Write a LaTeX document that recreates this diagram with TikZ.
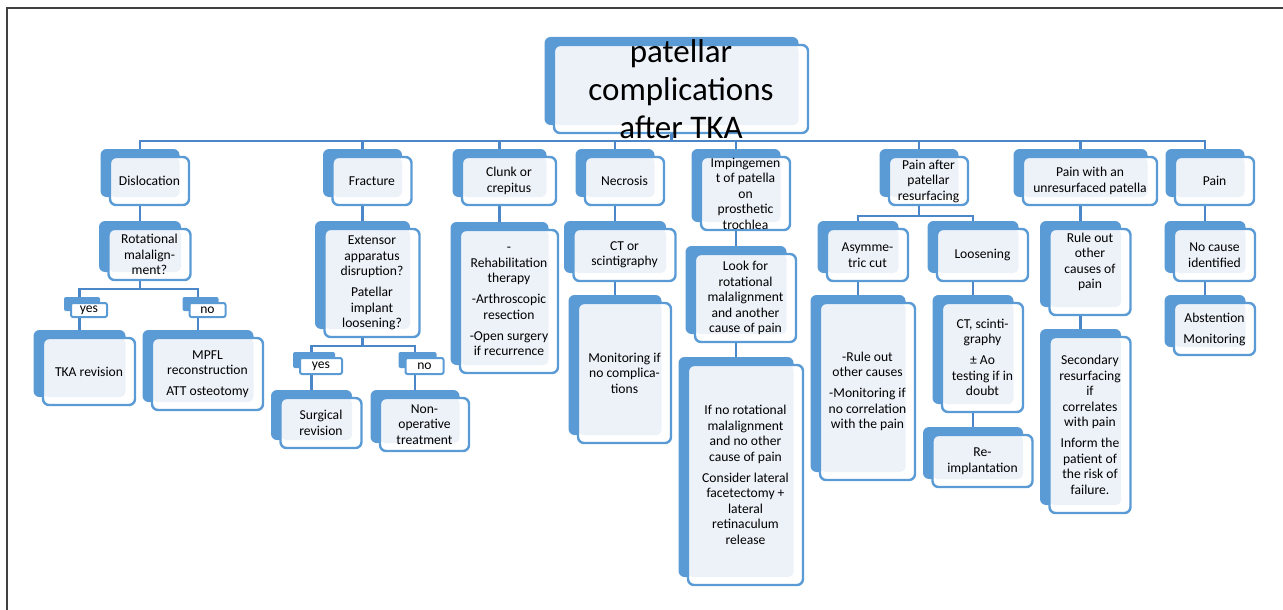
\documentclass[tikz,border=0pt]{standalone}
\usepackage{fontspec}
\setmainfont{Carlito}
\usetikzlibrary{shadows,backgrounds}
\definecolor{boxblue}{HTML}{5B9BD5}
\definecolor{linkblue}{HTML}{4A86C8}
\definecolor{paleblue}{HTML}{EDF2F9}
\definecolor{framegray}{HTML}{404040}

\begin{document}
\begin{tikzpicture}[x=1pt, y=-1pt,
    card/.style={draw=boxblue, line width=2.4pt, rounded corners=6pt, fill=white,
      inner sep=0pt, align=center, font=\fontsize{13.6pt}{15.5pt}\selectfont,
      copy shadow={shadow xshift=-9.5pt, shadow yshift=8pt, fill=boxblue, draw=none},
      path picture={\fill[paleblue, rounded corners=5pt]
        ([yshift=8pt]path picture bounding box.south west) rectangle
        ([xshift=-9.5pt]path picture bounding box.north east);}},
    tag/.style={draw=boxblue, line width=2pt, rounded corners=2pt, fill=white,
      inner sep=0pt, font=\fontsize{13.6pt}{15.5pt}\selectfont,
      copy shadow={shadow xshift=-7pt, shadow yshift=6pt, fill=boxblue, draw=none}},
    link/.style={draw=linkblue, line width=2.4pt}]
  \useasboundingbox (0,0) rectangle (1283,610);
  \draw[framegray, line width=2pt] (7,610) -- (7,8) -- (1283,8);

  % top
  \node[card, minimum width=254pt, minimum height=88pt,
    label={[font=\fontsize{33pt}{38pt}\selectfont, align=center]center:{patellar\\complications\\after TKA}}]
    (root) at (681,89) {};

  % first row
  \node[card, minimum width=79pt, minimum height=48pt] (disl) at (149.5,181) {Dislocation};
  \node[card, minimum width=79pt, minimum height=48pt] (frac) at (372,181) {Fracture};
  \node[card, minimum width=94pt, minimum height=48pt] (clunk) at (509,181) {Clunk or\\crepitus};
  \node[card, minimum width=79pt, minimum height=48pt] (necro) at (624.5,181) {Necrosis};
  \node[card, minimum width=89pt, minimum height=73pt] (imping) at (745.5,193.5) {Impingemen\\t of patella\\on\\prosthetic\\trochlea};
  \node[card, minimum width=79pt, minimum height=48pt] (painres) at (928.5,181) {Pain after\\patellar\\resurfacing};
  \node[card, minimum width=134pt, minimum height=48pt] (painunres) at (1090,181) {Pain with an\\unresurfaced patella};
  \node[card, minimum width=79pt, minimum height=48pt] (pain) at (1214.5,181) {Pain};

  % second row
  \node[card, minimum width=82pt, minimum height=51pt] (rot) at (149.5,254.5) {Rotational\\malalign-\\ment?};
  \node[card, minimum width=95pt, minimum height=108pt] (ext) at (372,283) {Extensor\\apparatus\\disruption?\\[5.5pt]Patellar\\implant\\loosening?};
  \node[card, minimum width=98pt, minimum height=143pt] (rehab) at (509,301.5) {-\\Rehabilitation\\therapy\\[5.5pt]-Arthroscopic\\resection\\[5.5pt]-Open surgery\\if recurrence};
  \node[card, minimum width=102pt, minimum height=52pt] (ctsc) at (624.5,255) {CT or\\scintigraphy};
  \node[card, minimum width=101pt, minimum height=88pt] (look) at (745.5,298) {Look for\\rotational\\malalignment\\and another\\cause of pain};
  \node[card, minimum width=81pt, minimum height=52pt] (asym) at (867.5,255) {Asymme-\\tric cut};
  \node[card, minimum width=91pt, minimum height=52pt] (loos) at (982.5,255) {Loosening};
  \node[card, minimum width=81pt, minimum height=86pt] (ruleunres) at (1090,272) {Rule out\\other\\causes of\\pain\\[6.5pt]\mbox{}};
  \node[card, minimum width=81pt, minimum height=52pt] (nocause) at (1214.5,255) {No cause\\identified};

  % third row
  \node[tag, minimum width=36pt, minimum height=14pt] (yes1) at (89,310) {yes};
  \node[tag, minimum width=36pt, minimum height=14pt] (no1) at (207.5,310) {no};
  \node[tag, minimum width=42pt, minimum height=16pt] (yes2) at (321,366) {yes};
  \node[tag, minimum width=38pt, minimum height=16pt] (no2) at (424.5,366) {no};
  \node[card, minimum width=93pt, minimum height=140pt] (mon) at (624.5,373) {Monitoring if\\no complica-\\tions};
  \node[card, minimum width=115pt, minimum height=220pt] (ifno) at (745.5,475) {If no rotational\\malalignment\\and no other\\cause of pain\\[5.5pt]Consider lateral\\facetectomy +\\lateral\\retinaculum\\release};
  \node[card, minimum width=95pt, minimum height=177pt] (ruleleft) at (867.5,391.5) {-Rule out\\other causes\\[5.5pt]-Monitoring if\\no correlation\\with the pain};
  \node[card, minimum width=81pt, minimum height=109pt] (ctsci) at (982.5,357.5) {CT, scinti-\\graphy\\[5.5pt]± Ao\\testing if in\\doubt};
  \node[card, minimum width=81pt, minimum height=176pt] (secres) at (1090,425) {Secondary\\resurfacing\\if\\correlates\\with pain\\[5.5pt]Inform the\\patient of\\the risk of\\failure.};
  \node[card, minimum width=81pt, minimum height=52pt] (abst) at (1214.5,329) {Abstention\\[5.5pt]Monitoring};

  % last row
  \node[card, minimum width=92pt, minimum height=67pt] (tka) at (89,371.5) {TKA revision};
  \node[card, minimum width=111pt, minimum height=72pt] (mpfl) at (207.5,374) {MPFL\\reconstruction\\[5.5pt]ATT osteotomy};
  \node[card, minimum width=81pt, minimum height=50pt] (surg) at (321,423) {Surgical\\revision};
  \node[card, minimum width=89pt, minimum height=53pt] (nonop) at (424.5,424.5) {Non-\\operative\\treatment};
  \node[card, minimum width=100pt, minimum height=52pt] (reimpl) at (982.5,461) {Re-\\implantation};

  % links
  \begin{scope}[on background layer]
    \foreach \kid in {disl,frac,clunk,necro,imping,painres,painunres,pain}
      \draw[link] ([xshift=-9.5pt]root.south) -- ++(0,7) -| ([xshift=-9.5pt]\kid.north);
    \foreach \up/\down in {disl/rot, frac/ext, clunk/rehab, necro/ctsc, ctsc/mon,
        imping/look, look/ifno, asym/ruleleft, loos/ctsci, ctsci/reimpl,
        painunres/ruleunres, ruleunres/secres, pain/nocause, nocause/abst,
        yes1/tka, no1/mpfl, yes2/surg, no2/nonop}
      \draw[link] ([xshift=-9.5pt]\up.south) -- ([xshift=-9.5pt]\down.north);
    \foreach \up/\down in {rot/yes1, rot/no1, ext/yes2, ext/no2}
      \draw[link] ([xshift=-9.5pt]\up.south) -- ++(0,8) -| ([xshift=-9.5pt]\down.north);
    \foreach \down in {asym,loos}
      \draw[link] ([xshift=-9.5pt]painres.south) -- ++(0,10) -| ([xshift=-9.5pt]\down.north);
  \end{scope}
\end{tikzpicture}
\end{document}
